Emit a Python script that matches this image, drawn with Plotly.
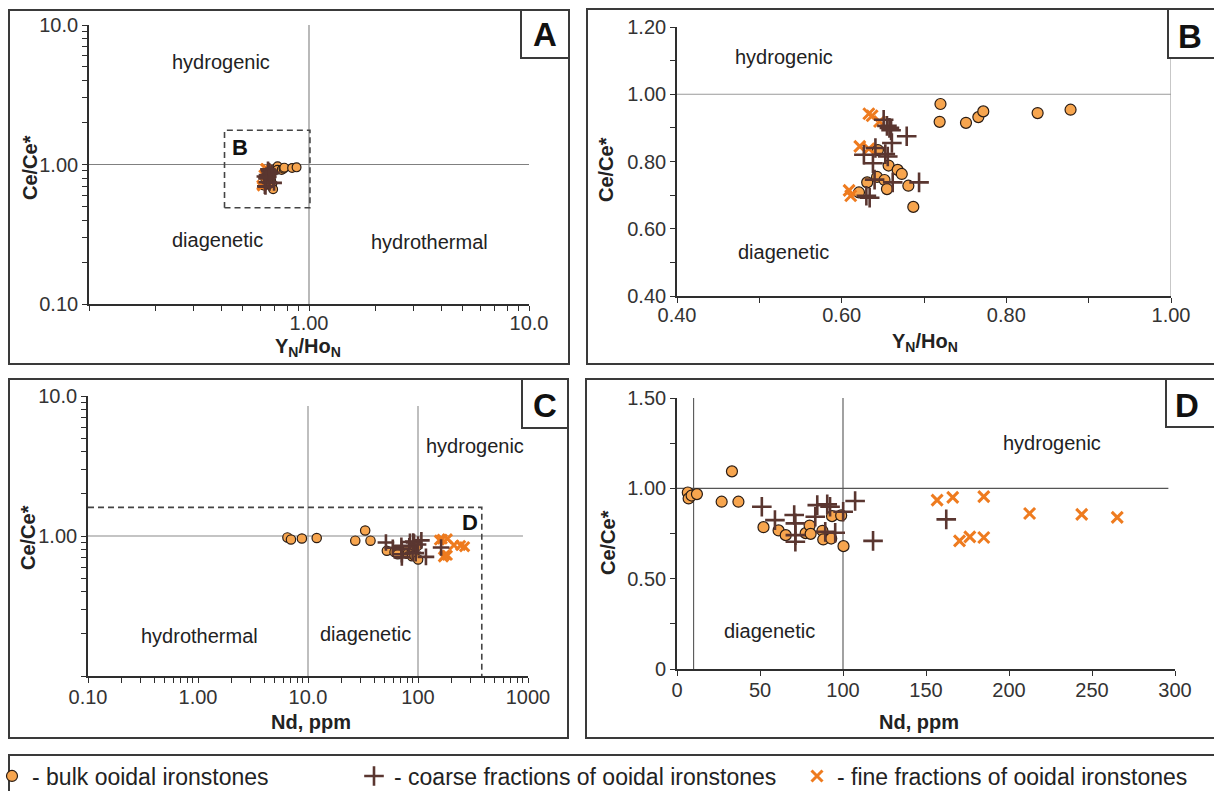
import plotly.graph_objects as go

# ---------------- data ----------------
# Panels A and B: Y_N/Ho_N versus Ce/Ce*
bulk_yho = [0.720, 0.719, 0.751, 0.766, 0.772, 0.838, 0.878, 0.657, 0.668, 0.673,
            0.681, 0.687, 0.643, 0.631, 0.621, 0.652, 0.655, 0.644]
bulk_ce_b = [0.971, 0.918, 0.915, 0.932, 0.949, 0.944, 0.954, 0.788, 0.775, 0.763,
             0.728, 0.665, 0.754, 0.738, 0.708, 0.745, 0.718, 0.834]
coarse_yho = [0.651, 0.655, 0.658, 0.660, 0.679, 0.661, 0.641, 0.653, 0.656, 0.627,
              0.638, 0.640, 0.662, 0.694, 0.630, 0.634]
coarse_ce_b = [0.924, 0.906, 0.900, 0.893, 0.875, 0.855, 0.840, 0.822, 0.815, 0.820,
               0.795, 0.746, 0.738, 0.738, 0.698, 0.692]
fine_yho = [0.633, 0.637, 0.646, 0.622, 0.633, 0.609, 0.611]
fine_ce_b = [0.942, 0.936, 0.919, 0.845, 0.838, 0.714, 0.698]

# Panels C and D: Nd (ppm) versus Ce/Ce*
bulk_nd = [6.5, 7.0, 8.8, 12.0, 26.9, 33.1, 37.0, 52.1, 61.2, 65.5, 77.5, 79.9,
           80.5, 87.6, 88.1, 92.9, 93.4, 98.9, 100.3]
bulk_ce_d = [0.977, 0.944, 0.960, 0.968, 0.926, 1.094, 0.926, 0.785, 0.767, 0.741,
             0.752, 0.794, 0.748, 0.765, 0.717, 0.722, 0.846, 0.850, 0.680]
coarse_nd = [51.1, 59.0, 70.6, 71.3, 71.3, 71.3, 83.3, 84.5, 90.5, 92.2, 89.3,
             95.3, 100.1, 107.3, 118.1, 162.2]
coarse_ce_d = [0.898, 0.824, 0.852, 0.806, 0.741, 0.704, 0.843, 0.907, 0.911, 0.898,
               0.759, 0.754, 0.870, 0.930, 0.709, 0.828]
fine_nd = [156.7, 166.1, 184.8, 212.4, 243.8, 265.2, 170.2, 176.4, 184.8]
fine_ce_d = [0.935, 0.950, 0.954, 0.861, 0.856, 0.839, 0.709, 0.731, 0.728]

# reference boundaries
boundary_ce = 1.0
boundary_yho = 1.0
boundary_nd = [10, 100]
zoom_box_b = [0.413, 1.01, 0.49, 1.76]   # x0, x1, y0, y1 of dashed box "B" in panel A
zoom_box_d = [0.1, 380, 0.1, 1.6]        # dashed box "D" in panel C

# tick labels
a_x_major, a_x_text = [1, 10], ["1.00", "10.0"]
a_y_major, a_y_text = [0.1, 1, 10], ["0.10", "1.00", "10.0"]
b_x_major, b_x_text = [0.4, 0.6, 0.8, 1.0], ["0.40", "0.60", "0.80", "1.00"]
b_x_minor = [0.5, 0.7, 0.9]
b_y_major, b_y_text = [0.4, 0.6, 0.8, 1.0, 1.2], ["0.40", "0.60", "0.80", "1.00", "1.20"]
b_y_minor = [0.5, 0.7, 0.9, 1.1]
c_x_major, c_x_text = [0.1, 1, 10, 100, 1000], ["0.10", "1.00", "10.0", "100", "1000"]
c_y_major, c_y_text = [1, 10], ["1.00", "10.0"]
d_x_major, d_x_text = [0, 50, 100, 150, 200, 250, 300], ["0", "50", "100", "150", "200", "250", "300"]
d_y_major, d_y_text = [0, 0.5, 1.0, 1.5], ["0", "0.50", "1.00", "1.50"]
d_y_minor = [0.25, 0.75, 1.25]

legend_names = ["- bulk ooidal ironstones",
                "- coarse fractions of ooidal ironstones",
                "- fine fractions of ooidal ironstones"]

# ---------------- layout helpers ----------------
W, H = 1214, 791
FONT = "Liberation Sans, Arial, sans-serif"
DARK = "#2e2e2e"
C_BULK = "#F7A54E"
C_COARSE = "#5A3630"
C_FINE = "#EE7B1F"


def px(x):
    return x / W


def py(y):
    return 1 - y / H


def log_minor(lo_exp, hi_exp):
    out = []
    for e in range(lo_exp, hi_exp):
        for m in range(2, 10):
            out.append(m * 10 ** e)
    return out


def ticks(major, text, minor):
    return major + minor, text + [""] * len(minor)


def axis(domain, anchor, vals, text, rng, log=False, standoff=0):
    d = dict(domain=domain, anchor=anchor, range=rng, showline=True, linecolor=DARK,
             linewidth=1.6, ticks="outside", ticklen=5, tickwidth=1.3, tickcolor=DARK,
             showgrid=False, zeroline=False, tickmode="array", tickvals=vals, ticktext=text,
             tickfont=dict(family=FONT, size=20, color="#333"), mirror=False,
             automargin=False, ticklabelstandoff=standoff)
    if log:
        d["type"] = "log"
    return d


fig = go.Figure()


def line(xs, ys, xa, ya, color="#777", width=1.1, dash=None):
    fig.add_trace(go.Scatter(x=xs, y=ys, xaxis=xa, yaxis=ya, mode="lines",
                             line=dict(color=color, width=width, dash=dash),
                             hoverinfo="skip", showlegend=False))


def points(xs_b, ys_b, xs_c, ys_c, xs_f, ys_f, xa, ya, scale, legend=False):
    fig.add_trace(go.Scatter(x=xs_b, y=ys_b, xaxis=xa, yaxis=ya, mode="markers",
                             marker=dict(symbol="circle", size=11 * scale, color=C_BULK,
                                         line=dict(color="#2a1c14", width=1.2)),
                             name=legend_names[0], showlegend=legend, legend="legend"))
    fig.add_trace(go.Scatter(x=xs_f, y=ys_f, xaxis=xa, yaxis=ya, mode="markers",
                             marker=dict(symbol="x-thin", size=11 * scale, color=C_FINE,
                                         line=dict(color=C_FINE, width=3)),
                             name=legend_names[2], showlegend=legend, legend="legend3"))
    fig.add_trace(go.Scatter(x=xs_c, y=ys_c, xaxis=xa, yaxis=ya, mode="markers",
                             marker=dict(symbol="cross-thin", size=14 * scale, color=C_COARSE,
                                         line=dict(color=C_COARSE, width=2.6)),
                             name=legend_names[1], showlegend=legend, legend="legend2"))


# ---------------- Panel A ----------------
line([0.1, 10], [boundary_ce, boundary_ce], "x", "y", "#808080")
line([boundary_yho, boundary_yho], [0.1, 10], "x", "y", "#808080")
bx0, bx1, by0, by1 = zoom_box_b
line([bx0, bx1, bx1, bx0, bx0], [by0, by0, by1, by1, by0], "x", "y", "#444", 1.6, "6px,4px")
points(bulk_yho, bulk_ce_b, coarse_yho, coarse_ce_b, fine_yho, fine_ce_b, "x", "y", 0.8)

# ---------------- Panel B ----------------
line([0.4, 1.0], [boundary_ce, boundary_ce], "x2", "y2", "#9a9a9a")
line([boundary_yho, boundary_yho], [0.4, 1.2], "x2", "y2", "#9a9a9a")
points(bulk_yho, bulk_ce_b, coarse_yho, coarse_ce_b, fine_yho, fine_ce_b, "x2", "y2", 1.0,
       legend=True)

# ---------------- Panel C ----------------
line([0.1, 900], [boundary_ce, boundary_ce], "x3", "y3", "#8a8a8a")
for v in boundary_nd:
    line([v, v], [0.1, 8.5], "x3", "y3", "#8a8a8a")
dx0, dx1, dy0, dy1 = zoom_box_d
line([dx0, dx1, dx1], [dy1, dy1, dy0], "x3", "y3", "#444", 1.6, "6px,4px")
points(bulk_nd, bulk_ce_d, coarse_nd, coarse_ce_d, fine_nd, fine_ce_d, "x3", "y3", 0.85)

# ---------------- Panel D ----------------
line([0, 296], [boundary_ce, boundary_ce], "x4", "y4", "#555")
for v in boundary_nd:
    line([v, v], [0, 1.5], "x4", "y4", "#555")
points(bulk_nd, bulk_ce_d, coarse_nd, coarse_ce_d, fine_nd, fine_ce_d, "x4", "y4", 1.0)

# ---------------- axes ----------------
ax_vals, ax_text = ticks(a_x_major, a_x_text, log_minor(-1, 1) + [0.1])
ay_vals, ay_text = ticks(a_y_major, a_y_text, log_minor(-1, 1))
bx_vals, bx_text = ticks(b_x_major, b_x_text, b_x_minor)
by_vals, by_text = ticks(b_y_major, b_y_text, b_y_minor)
cx_vals, cx_text = ticks(c_x_major, c_x_text, log_minor(-1, 3))
cy_vals, cy_text = ticks(c_y_major, c_y_text, log_minor(-1, 1) + [0.1])
dx_vals, dx_text = ticks(d_x_major, d_x_text, [])
dy_vals, dy_text = ticks(d_y_major, d_y_text, d_y_minor)

layout = dict(
    width=W, height=H, margin=dict(l=0, r=0, t=0, b=0, pad=0, autoexpand=False),
    autosize=False, paper_bgcolor="white", plot_bgcolor="white",
    font=dict(family=FONT, color="#222"),
    xaxis=axis([px(89), px(529)], "y", ax_vals, ax_text, [-1, 1], True, -5),
    yaxis=axis([py(304), py(25)], "x", ay_vals, ay_text, [-1, 1], True),
    xaxis2=axis([px(677), px(1171)], "y2", bx_vals, bx_text, [0.4, 1.0], False, -5),
    yaxis2=axis([py(296), py(27)], "x2", by_vals, by_text, [0.4, 1.2]),
    xaxis3=axis([px(88), px(528)], "y3", cx_vals, cx_text, [-1, 3], True, -3),
    yaxis3=axis([py(676), py(396)], "x3", cy_vals, cy_text, [-1, 1], True),
    xaxis4=axis([px(677), px(1175)], "y4", dx_vals, dx_text, [0, 300], False, -3),
    yaxis4=axis([py(669), py(398)], "x4", dy_vals, dy_text, [0, 1.5]),
)

leg_common = dict(yanchor="middle", xanchor="left", y=py(776), bgcolor="rgba(0,0,0,0)",
                  font=dict(family=FONT, size=23, color="#222"), borderwidth=0,
                  itemsizing="trace")
layout["legend"] = dict(x=px(-8), **leg_common)
layout["legend2"] = dict(x=px(354), **leg_common)
layout["legend3"] = dict(x=px(797), **leg_common)

shapes = []
annotations = []


def rect(x0, y0, x1, y1, fill="rgba(0,0,0,0)", width=2):
    shapes.append(dict(type="rect", xref="paper", yref="paper", x0=px(x0), x1=px(x1),
                       y0=py(y1), y1=py(y0), line=dict(color="#3a3a3a", width=width),
                       fillcolor=fill, layer="above"))


def text(s, x, y, size=20, bold=False, angle=0, color="#222"):
    annotations.append(dict(text=f"<b>{s}</b>" if bold else s, x=px(x), y=py(y),
                            xref="paper", yref="paper", showarrow=False,
                            xanchor="center", yanchor="middle", textangle=angle,
                            font=dict(family=FONT, size=size, color=color)))


# panel frames
rect(9, 10, 569, 364)
rect(587, 9, 1240, 364)
rect(9, 379, 568, 738)
rect(586, 379, 1240, 738)
rect(9, 755, 1240, 810)
# panel letter boxes
rect(521, 10, 569, 58, "white")
rect(1168, 9, 1240, 58, "white")
rect(522, 379, 568, 428, "white")
rect(1166, 379, 1240, 427, "white")
text("A", 545, 35, 33, True, color="#111")
text("B", 1190, 36, 33, True, color="#111")
text("C", 545, 405, 33, True, color="#111")
text("D", 1187, 405, 33, True, color="#111")

# zoom-box letters
text("B", 240, 147, 22, True, color="#111")
text("D", 470, 522, 22, True, color="#111")

# region labels
text("hydrogenic", 221, 62)
text("diagenetic", 217, 240)
text("hydrothermal", 429, 242)
text("hydrogenic", 784, 57)
text("diagenetic", 783, 252)
text("hydrogenic", 475, 446)
text("hydrothermal", 199, 636)
text("diagenetic", 365, 634)
text("hydrogenic", 1052, 443)
text("diagenetic", 769, 631)

# axis titles
yho = "Y<sub>N</sub>/Ho<sub>N</sub>"
text("Ce/Ce*", 30, 168, 20, True, -90)
text(yho, 308, 348, 20, True)
text("Ce/Ce*", 606, 170, 20, True, -90)
text(yho, 925, 342, 20, True)
text("Ce/Ce*", 28, 538, 20, True, -90)
text("Nd, ppm", 311, 722, 20, True)
text("Ce/Ce*", 608, 543, 20, True, -90)
text("Nd, ppm", 919, 722, 20, True)

layout["shapes"] = shapes
layout["annotations"] = annotations
fig.update_layout(**layout)

# place the figure at the page's top-left corner (no default body margin)
fig.write_html("out.html", config={"displayModeBar": False},
               post_script="document.body.style.margin='0';document.body.style.overflow='hidden';")
